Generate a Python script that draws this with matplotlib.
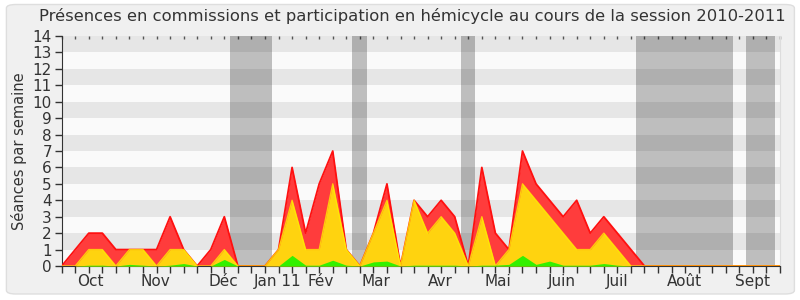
import matplotlib
matplotlib.use("Agg")
import matplotlib.pyplot as plt
from matplotlib.patches import FancyBboxPatch
import numpy as np

# weekly values, week 0 .. 53
total = [0, 1, 2, 2, 1, 1, 1, 1, 3, 1, 0, 1, 3, 0, 0, 0, 1, 6, 2, 5, 7, 1, 0, 2, 5, 0,
         4, 3, 4, 3, 0, 6, 2, 1, 7, 5, 4, 3, 4, 2, 3, 2, 1, 0,
         0, 0, 0, 0, 0, 0, 0, 0, 0, 0]
hemicycle = [0, 0, 1, 1, 0, 1, 1, 0, 1, 1, 0, 0, 1, 0, 0, 0, 1, 4, 1, 1, 5, 1, 0, 2, 4, 0,
             4, 2, 3, 2, 0, 3, 0, 1, 5, 4, 3, 2, 1, 1, 2, 1, 0, 0,
             0, 0, 0, 0, 0, 0, 0, 0, 0, 0]
green = [0, 0, 0.05, 0.05, 0, 0.1, 0.05, 0, 0.05, 0.15, 0, 0, 0.4, 0, 0, 0, 0, 0.65, 0.05, 0.05,
         0.35, 0.05, 0, 0.25, 0.3, 0, 0.05, 0.05, 0.05, 0.05, 0, 0.05, 0.05, 0.1, 0.65, 0.1, 0.3,
         0.05, 0.05, 0.05, 0.15, 0.05, 0, 0,
         0, 0, 0, 0, 0, 0, 0, 0, 0, 0]

months = ["Oct", "Nov", "Déc", "Jan 11", "Fév", "Mar", "Avr", "Mai", "Juin", "Juil", "Août", "Sept"]
month_pos = [2.14, 6.9, 11.92, 15.97, 19.12, 23.18, 27.92, 32.15, 36.9, 40.97, 45.98, 50.96]

# vacances (in weeks)
vacances = [(12.4, 15.5), (21.4, 22.5), (29.45, 30.5), (42.4, 49.5), (50.5, 52.6)]

weeks = np.arange(len(total))

fig = plt.figure(figsize=(8, 3), dpi=100, facecolor="white")
fig.patches.append(FancyBboxPatch((0.008, 0.02), 0.985, 0.965, boxstyle="round,pad=0,rounding_size=0.012",
                                  transform=fig.transFigure, fc="#f0f0f0", ec="#dedede", lw=1.0, zorder=-10))

ax = fig.add_axes([0.0771, 0.1133, 0.8979, 0.7667])
ax.set_facecolor("#fafafa")
for k in range(1, 14, 2):
    ax.axhspan(k, k + 1, color="#e6e6e6", lw=0, zorder=0)
for a, b in vacances:
    ax.axvspan(a, b, color="black", alpha=0.24, lw=0, zorder=1)

ax.fill_between(weeks, 0, total, color="#ff3c3c", lw=0, zorder=2)
ax.plot(weeks, total, color="#ff1010", lw=1.3, zorder=3)
ax.fill_between(weeks, 0, hemicycle, color="#ffd30f", lw=0, zorder=4)
ax.plot(weeks, hemicycle, color="#ffee00", lw=1.0, alpha=0.8, zorder=5)
ax.fill_between(weeks, 0, green, color="#33f000", lw=0, zorder=6)

ax.set_xlim(0, 53)
ax.set_ylim(0, 14)
ax.set_yticks(range(15))
ax.set_xticks(weeks)
ax.set_xticklabels([])
ax.set_xticks(month_pos, minor=True)
ax.set_xticklabels(months, minor=True)
ax.tick_params(axis="x", which="major", length=5, width=1, color="#333333", direction="out")
ax.tick_params(axis="x", which="minor", length=0, pad=6, labelsize=11, labelcolor="#333333")
ax.tick_params(axis="y", length=5, width=1, color="#333333", labelsize=11, labelcolor="#333333", pad=2)

top = ax.secondary_xaxis("top")
top.set_xticks(weeks)
top.set_xticklabels([])
top.tick_params(direction="in", length=2, width=1, color="#555555")
top.spines["top"].set_visible(False)

ax.spines["top"].set_visible(False)
ax.spines["right"].set_color("#dddddd")
ax.spines["left"].set_color("#333333")
ax.spines["bottom"].set_color("#333333")

ax.set_ylabel("Séances par semaine", fontsize=10.5, color="#333333", labelpad=4)
fig.suptitle("Présences en commissions et participation en hémicycle au cours de la session 2010-2011",
             fontsize=11.8, color="#333333", x=0.516, y=0.975)

fig.savefig("out.png", dpi=100)
